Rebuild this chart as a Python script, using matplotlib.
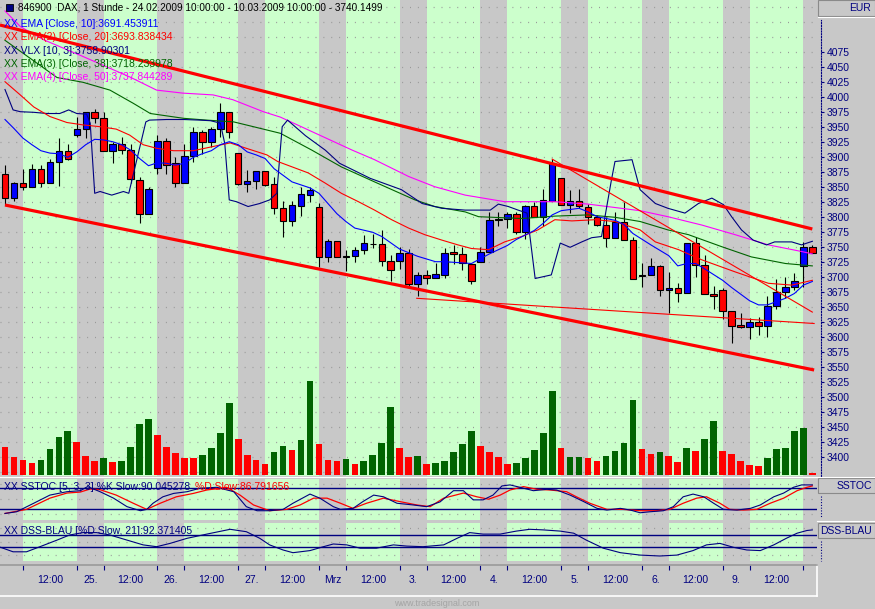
import matplotlib
matplotlib.use('Agg')
import matplotlib.pyplot as plt
from matplotlib.patches import Rectangle
from matplotlib.lines import Line2D

plt.rcParams['font.family'] = ['Liberation Sans', 'DejaVu Sans']

W, H = 875, 609
GREY = '#c8c8c8'
LIGHT_GREEN = '#ccffcc'
NAVY = '#000080'
DKGREEN = '#006400'
DOTS = '#999999'

# hourly bars, bar 0 = 24.02.2009 10:00, last bar = 10.03.2009 10:00
opens = [3872, 3832, 3856, 3849, 3879, 3857, 3891, 3909, 3937, 3947,
         3974, 3964, 3909, 3921, 3911, 3862, 3804, 3882, 3927, 3889,
         3857, 3901, 3941, 3924, 3946, 3974, 3907, 3855, 3859, 3876,
         3854, 3814, 3793, 3818, 3837, 3817, 3732, 3760, 3733, 3734,
         3745, 3755, 3754, 3726, 3726, 3739, 3688, 3702, 3697, 3703,
         3741, 3737, 3721, 3725, 3741, 3794, 3796, 3804, 3775, 3818,
         3799, 3827, 3864, 3820, 3827, 3817, 3799, 3786, 3764, 3792,
         3761, 3701, 3702, 3717, 3677, 3681, 3672, 3756, 3719, 3671,
         3678, 3643, 3619, 3616, 3624, 3618, 3651, 3674, 3683, 3718,
         3750]
highs = [3886, 3858, 3879, 3888, 3886, 3897, 3932, 3921, 3966, 3975,
         3979, 3974, 3925, 3933, 3922, 3867, 3849, 3936, 3931, 3899,
         3921, 3950, 3945, 3950, 3989, 3974, 3907, 3878, 3877, 3876,
         3866, 3827, 3827, 3849, 3850, 3823, 3763, 3760, 3745, 3749,
         3770, 3772, 3778, 3736, 3749, 3746, 3708, 3711, 3722, 3747,
         3753, 3750, 3721, 3749, 3808, 3808, 3808, 3808, 3820, 3825,
         3847, 3896, 3864, 3845, 3846, 3822, 3803, 3799, 3808, 3825,
         3766, 3723, 3731, 3720, 3708, 3689, 3756, 3766, 3736, 3685,
         3681, 3643, 3639, 3631, 3633, 3668, 3696, 3699, 3706, 3757,
         3753]
lows = [3819, 3827, 3845, 3849, 3849, 3856, 3851, 3895, 3933, 3931,
        3956, 3909, 3889, 3904, 3856, 3790, 3804, 3871, 3871, 3849,
        3857, 3891, 3904, 3917, 3933, 3932, 3853, 3842, 3846, 3851,
        3804, 3766, 3785, 3801, 3824, 3716, 3725, 3732, 3710, 3725,
        3737, 3747, 3717, 3693, 3713, 3683, 3668, 3687, 3697, 3698,
        3721, 3711, 3687, 3725, 3741, 3784, 3782, 3771, 3762, 3799,
        3784, 3827, 3820, 3807, 3814, 3788, 3784, 3750, 3764, 3761,
        3696, 3683, 3702, 3667, 3639, 3657, 3672, 3699, 3671, 3646,
        3629, 3589, 3614, 3596, 3603, 3599, 3646, 3664, 3678, 3683,
        3740]
closes = [3832, 3856, 3849, 3879, 3857, 3891, 3909, 3896, 3947, 3974,
          3964, 3909, 3921, 3911, 3863, 3804, 3846, 3927, 3887, 3857,
          3901, 3941, 3924, 3946, 3974, 3942, 3855, 3860, 3877, 3853,
          3814, 3793, 3820, 3838, 3844, 3732, 3760, 3732, 3734, 3744,
          3756, 3754, 3726, 3711, 3739, 3688, 3702, 3697, 3704, 3740,
          3737, 3722, 3692, 3741, 3794, 3796, 3804, 3775, 3818, 3799,
          3828, 3890, 3820, 3827, 3818, 3799, 3786, 3764, 3792, 3761,
          3696, 3702, 3717, 3678, 3681, 3672, 3756, 3719, 3671, 3667,
          3643, 3618, 3616, 3624, 3618, 3651, 3674, 3682, 3693, 3749,
          3740]
volume = [28, 18, 15, 12, 15, 26, 38, 44, 33, 19,
          14, 17, 13, 14, 28, 51, 56, 40, 28, 22,
          17, 17, 20, 27, 42, 72, 36, 20, 15, 11,
          23, 29, 25, 35, 94, 31, 15, 14, 16, 11,
          14, 20, 32, 68, 27, 18, 19, 11, 12, 14,
          23, 31, 44, 29, 23, 18, 11, 12, 17, 25,
          42, 84, 27, 18, 18, 17, 14, 19, 24, 32,
          75, 26, 21, 23, 19, 13, 27, 24, 36, 54,
          24, 21, 14, 10, 9, 17, 26, 27, 44, 47,
          2]
vol_up = [0, 0, 0, 0, 1, 1, 1, 1, 0, 0,
          0, 1, 0, 1, 1, 1, 1, 0, 0, 0,
          0, 0, 1, 1, 1, 1, 0, 0, 0, 0,
          1, 1, 0, 1, 1, 0, 0, 0, 1, 0,
          1, 1, 1, 1, 0, 0, 1, 0, 1, 1,
          1, 1, 1, 0, 0, 0, 0, 1, 1, 1,
          1, 1, 0, 1, 1, 0, 0, 1, 1, 1,
          1, 0, 0, 1, 0, 0, 1, 0, 1, 1,
          0, 0, 0, 0, 0, 1, 1, 1, 1, 1,
          0]

# indicator lines (bar position, value)
ema10_x = list(range(0, 31)) + [32, 34, 35, 36, 37, 38, 39, 41, 42, 44, 46, 48, 49, 51, 52, 53, 54,
                                56, 57, 59, 60, 61, 62, 64, 65, 66, 68, 69, 70, 72, 74, 75, 76,
                                77, 78, 80, 81, 83, 84, 85, 87, 88, 89, 90]
ema10_y = [3962, 3947, 3931, 3920, 3910, 3906, 3905, 3899, 3908, 3920,
           3929, 3928, 3925, 3920, 3911, 3897, 3885, 3890, 3889, 3886,
           3889, 3899, 3905, 3910, 3920, 3925, 3920, 3908, 3903, 3897, 3880,
           3858, 3848, 3839, 3822, 3805, 3792, 3781, 3774, 3767, 3746, 3734, 3725, 3725,
           3723, 3722, 3730, 3738, 3752, 3762, 3777, 3789, 3803, 3810, 3814, 3808, 3800,
           3794, 3787, 3772, 3753, 3735, 3718, 3722, 3722, 3713, 3694, 3682, 3660,
           3653, 3653, 3664, 3672, 3686, 3692]
ema20_x = [0, 1.7, 3.2, 5, 6.9, 8.7, 10.6, 12.4, 13.9, 15.4, 16.9, 18.8, 21, 23.2, 25.1, 26.9,
           29.2, 30.4, 33.8, 35.7, 37.5, 39.4, 41.2, 43.1, 45, 46.8, 48.7, 50.5, 52, 53.9, 55.7,
           57.6, 59.4, 61.3, 63.2, 65.8, 68, 70.8, 72.5, 75.1, 77.7, 81.4, 85.1, 87.7, 90]
ema20_y = [4025, 4003, 3983, 3967, 3957, 3953, 3950, 3946, 3936, 3920, 3914, 3910, 3910, 3917,
           3923, 3914, 3903, 3892, 3873, 3856, 3839, 3825, 3811, 3795, 3781, 3770, 3761, 3753,
           3747, 3745, 3758, 3767, 3778, 3795, 3793, 3795, 3792, 3778, 3758, 3745, 3728, 3708,
           3689, 3686, 3694]
vlx_x = [0, 0.9, 1.7, 3.2, 4.7, 6.1, 7.1, 8, 9.1, 9.5, 10, 10.6, 11.9, 13.2, 13.8, 15.7, 16.1,
         18, 19.9, 21.7, 22.9, 24, 24.5, 25, 25.8, 27.1, 28.4, 29.5, 30.3, 30.9, 31.5, 33.5,
         35.7, 37.3, 40.7, 44.2, 46.5, 48.7, 51.3, 54.1, 55, 56.1, 57.2, 58.2, 59.1, 60.9,
         61.9, 63, 64.3, 65.4, 66.5, 67.6, 68, 69.9, 70.8, 72.5, 73.9, 75.8, 77.3, 78.8,
         80.1, 81, 82.1, 83.4, 84.9, 85.8, 87.7, 88.8, 90]
vlx_y = [4012, 3978, 3975, 3974, 3972, 3972, 3978, 3972, 3971, 3956, 3839, 3842, 3836, 3842,
         3839, 3958, 3961, 3962, 3962, 3961, 3960, 3956, 3922, 3828, 3825, 3817, 3822, 3828,
         3839, 3950, 3961, 3935, 3911, 3889, 3864, 3845, 3822, 3814, 3811, 3811, 3821, 3817,
         3811, 3806, 3697, 3703, 3756, 3749, 3758, 3765, 3767, 3861, 3892, 3895, 3845, 3822,
         3814, 3806, 3822, 3831, 3820, 3800, 3778, 3761, 3753, 3758, 3758, 3753, 3759]
ema38_x = [0, 5.8, 8.7, 11.7, 14.3, 16.2, 19.9, 22.5, 25.5, 27.7, 30.7, 34.2, 37.5, 41.2, 45.7,
           47.9, 51.3, 52.8, 57.6, 61.3, 65, 68, 70.8, 73.9, 76.2, 79.9, 83.2, 87, 90]
ema38_y = [4094, 4032, 4024, 4011, 3989, 3972, 3964, 3961, 3958, 3950, 3939, 3911, 3883, 3858,
           3828, 3817, 3808, 3800, 3797, 3801, 3803, 3799, 3792, 3778, 3770, 3750, 3733, 3722,
           3718]
ema50_x = [0, 1.7, 4.3, 8.7, 13.9, 16.9, 19.8, 23.2, 25.4, 28.8, 30.7, 38.7, 41.2, 45, 47.9,
           51.3, 55.7, 61.3, 65, 70.8, 73.9, 77.7, 81.4, 85.1, 88.8, 90]
ema50_y = [4143, 4117, 4095, 4067, 4033, 4011, 4006, 4003, 3995, 3975, 3966, 3911, 3895, 3867,
           3850, 3836, 3825, 3825, 3821, 3810, 3800, 3786, 3770, 3753, 3742, 3738]

# trend lines (bar, price)
upper_channel = [(-0.56, 4119.5), (90.0, 3779.5)]
lower_channel = [(0.0, 3819.5), (90.2, 3544.5)]
fan_line = [(61.0, 3896), (90.0, 3641)]
flat_line = [(45.9, 3664), (90.2, 3622)]

# SSTOC %K / %D and DSS-BLAU
k_x = [0, 1.3, 3.2, 5, 6.9, 8.4, 9.2, 10.6, 12.1, 13.6, 15.1, 15.8, 16.5, 17.6, 18.8, 20.3,
       21.7, 23.6, 25.5, 26.9, 28.1, 29.5, 31, 32.1, 34, 35.1, 36.6, 37.4, 38.8, 39.9, 41.1,
       42.2, 43.7, 45.5, 47, 48.5, 50, 51.1, 52.2, 53.3, 54.4, 55.4, 56.3, 57.4, 58.9, 60.4,
       61.5, 63, 64.5, 66, 67.1, 68.6, 69.7, 70.8, 71.9, 73.4, 74.5, 75.6, 76.7, 77.9, 79,
       80.1, 81.6, 83.1, 84.2, 85.7, 86.8, 87.9, 88.8, 90]
k_y = [6, 11, 36, 60, 70, 73, 85, 70, 51, 26, 14, 18, 36, 55, 65, 70, 80, 83, 70, 26, 14, 14,
       18, 36, 63, 51, 26, 18, 21, 41, 60, 55, 36, 31, 26, 40, 73, 73, 46, 46, 60, 87, 90, 83,
       73, 77, 75, 60, 41, 21, 16, 21, 16, 8, 11, 14, 26, 55, 63, 55, 36, 18, 16, 21, 31, 55,
       66, 83, 90, 90]
d_x = [0, 2.4, 5, 6.9, 8.4, 9.5, 10.6, 12.4, 14.3, 15.8, 17.3, 19.1, 21, 22.5, 24.7, 26.2,
       27.7, 29.5, 31.4, 32.9, 34.4, 35.9, 37.4, 38.8, 40.3, 42.2, 44, 45.9, 47.4, 48.9, 51.1,
       52.6, 53.9, 55.2, 56.3, 57.8, 59.3, 60.8, 62.6, 63.7, 65.2, 67.1, 68.9, 70.8, 72.6,
       74.1, 75.6, 77.1, 78.2, 79.7, 80.8, 82.3, 83.8, 85.3, 86.8, 88.3, 89.4, 90]
d_y = [6, 18, 51, 66, 69, 78, 76, 60, 36, 18, 36, 55, 65, 75, 83, 60, 31, 14, 18, 31, 51, 51,
       36, 21, 36, 51, 41, 31, 26, 51, 66, 55, 48, 60, 75, 85, 77, 75, 70, 55, 36, 18, 18, 14,
       14, 18, 36, 51, 55, 36, 18, 16, 18, 36, 51, 73, 83, 87]
dss_x = [-0.5, 0.9, 2.4, 3.9, 5.8, 7.2, 8.7, 10.2, 11.7, 13.6, 15.4, 16.9, 18.4, 20.3, 22.5,
         25.1, 26.9, 28.4, 29.5, 31, 32.1, 34, 35.5, 36.6, 38.1, 39.6, 41.4, 43.3, 44.8, 46.6,
         48.9, 50.4, 51.8, 53.3, 55.2, 57, 58.5, 60, 61.9, 63.4, 64.8, 66.7, 68.6, 70.8, 73,
         74.9, 76.7, 78.2, 79.7, 81.2, 82.7, 84.2, 85.7, 87.1, 88.3, 89.4, 90]
dss_y = [30, 15, 15, 32, 54, 71, 79, 79, 71, 54, 38, 32, 43, 60, 74, 90, 82, 60, 38, 21, 12,
         19, 32, 41, 38, 27, 27, 38, 34, 32, 38, 60, 79, 74, 74, 84, 90, 88, 84, 77, 54, 27,
         12, 4, 1, 4, 19, 38, 43, 30, 21, 19, 38, 60, 77, 86, 88]

day_labels = ['25.', '26.', '27.', 'Mrz', '3.', '4.', '5.', '6.', '9.']
price_ticks = list(range(3400, 4076, 25))

XMIN, XMAX = -0.557, 90.52
bars = list(range(len(closes)))
green_from = [2 + 9 * k for k in range(10)]


def box(x0, y0, x1, y1):
    return [x0 / W, 1 - y1 / H, (x1 - x0) / W, (y1 - y0) / H]


def ftext(x, y, s, **kw):
    fig.text(x / W, 1 - y / H, s, va='center', **kw)


def fline(xs, ys, **kw):
    fig.add_artist(Line2D([x / W for x in xs], [1 - y / H for y in ys],
                          transform=fig.transFigure, **kw))


def frect(x0, y0, x1, y1, **kw):
    fig.add_artist(Rectangle((x0 / W, 1 - y1 / H), (x1 - x0) / W, (y1 - y0) / H,
                             transform=fig.transFigure, **kw))


def shade(a):
    a.set_facecolor(GREY)
    for g in green_from:
        a.axvspan(g, g + 6, color=LIGHT_GREEN, lw=0, zorder=0)
    a.set_xlim(XMIN, XMAX)
    a.set_xticks([])
    a.set_yticks([])
    for s in a.spines.values():
        s.set_visible(False)


def dotted_rows(a, levels):
    for v in levels:
        a.axhline(v, color=DOTS, lw=0.9, ls=(0, (0.8, 5.5)), zorder=0.5)


fig = plt.figure(figsize=(W / 100, H / 100), dpi=100)
fig.patch.set_facecolor(GREY)

# ---- main price panel
ax = fig.add_axes(box(0, 0, 817, 476))
shade(ax)
ax.set_ylim(3367.8, 4161.2)
dotted_rows(ax, range(3375, 4161, 25))

ax.vlines(bars, lows, highs, color='black', lw=0.8, zorder=3)
body_bot = [min(o, c) for o, c in zip(opens, closes)]
body_h = [max(abs(c - o), 1.2) for o, c in zip(opens, closes)]
body_col = ['#ff0000' if c < o else '#0000ff' for o, c in zip(opens, closes)]
ax.bar(bars, body_h, bottom=body_bot, width=0.72, color=body_col,
       edgecolor='black', lw=0.8, zorder=4)

ax.plot(ema38_x, ema38_y, color=DKGREEN, lw=0.8, zorder=5)
ax.plot(ema50_x, ema50_y, color='#ff00ff', lw=0.8, zorder=5)
ax.plot(vlx_x, vlx_y, color=NAVY, lw=0.8, zorder=5)
ax.plot(ema20_x, ema20_y, color='#ff0000', lw=0.8, zorder=5)
ax.plot(ema10_x, ema10_y, color='#0000ff', lw=0.8, zorder=5)
for ln in (fan_line, flat_line):
    ax.plot([q[0] for q in ln], [q[1] for q in ln], color='#ff0000', lw=0.8, zorder=5)
for ln in (upper_channel, lower_channel):
    ax.plot([q[0] for q in ln], [q[1] for q in ln], color='#ff0000', lw=2.3, zorder=6,
            solid_capstyle='butt')

axv = ax.twinx()
axv.set_ylim(-1, 475)
axv.bar(bars, volume, width=0.74, color=[DKGREEN if u else '#ff0000' for u in vol_up], lw=0)
axv.set_yticks([])
for s in axv.spines.values():
    s.set_visible(False)

# price scale on the right
axr = fig.add_axes(box(820.5, 0, 821, 476))
axr.set_ylim(3367.8, 4161.2)
axr.patch.set_visible(False)
axr.set_xticks([])
axr.yaxis.tick_right()
axr.set_yticks(price_ticks)
axr.tick_params(axis='y', direction='out', length=2.5, width=0.8, color=NAVY,
                labelcolor=NAVY, labelsize=7.5, pad=1.5)
for side in ('left', 'top', 'bottom'):
    axr.spines[side].set_visible(False)
axr.spines['right'].set_color(NAVY)
axr.spines['right'].set_linestyle((0, (1, 1.5)))
axr.spines['right'].set_bounds(3368, 4128)

# ---- SSTOC panel
ax_s = fig.add_axes(box(0, 479, 817, 519.5))
shade(ax_s)
ax_s.set_ylim(-11.8, 107.4)
dotted_rows(ax_s, (93, 49, 5))
for v in (80, 20):
    ax_s.axhline(v, color=NAVY, lw=1.0, zorder=2)
ax_s.plot(d_x, d_y, color='#ff0000', lw=0.9, zorder=3)
ax_s.plot(k_x, k_y, color=NAVY, lw=0.8, zorder=4)

# ---- DSS-BLAU panel
ax_d = fig.add_axes(box(0, 523, 817, 561))
shade(ax_d)
ax_d.set_ylim(-15.7, 111)
dotted_rows(ax_d, (93, 49, 5))
for v in (70, 30):
    ax_d.axhline(v, color=NAVY, lw=1.0, zorder=2)
ax_d.plot(dss_x, dss_y, color=NAVY, lw=0.8, zorder=3)

# ---- time axis
ax_x = fig.add_axes(box(0, 564.5, 817, 596))
ax_x.set_facecolor(GREY)
ax_x.set_xlim(XMIN, XMAX)
ax_x.set_ylim(0, 1)
ax_x.set_yticks([])
ax_x.xaxis.tick_top()
ax_x.set_xticks(sorted(green_from + [g + 6 for g in green_from]))
ax_x.tick_params(axis='x', direction='in', length=3.5, width=0.8, color=NAVY, labeltop=False)
ax_x.spines['left'].set_visible(False)
ax_x.spines['top'].set_color('#9a9a9a')
ax_x.spines['top'].set_linewidth(1.2)
for side in ('bottom', 'right'):
    ax_x.spines[side].set_color('white')
    ax_x.spines[side].set_linewidth(1.2)
for g in green_from:
    ax_x.text(g + 3, 0.5, '12:00', ha='center', va='center', color=NAVY, fontsize=7.5)
for g, lab in zip(green_from, day_labels):
    ax_x.text(g + 7.5, 0.5, lab, ha='center', va='center', color=NAVY, fontsize=7.5)

# ---- separators and right-hand boxes
fline([0, 875], [476.8, 476.8], color='white', lw=0.8)
fline([817, 875], [521, 521], color='white', lw=0.8)
frect(818, 0, 874.5, 15.5, facecolor=GREY, edgecolor='#8a8a8a', lw=0.8)
fline([818, 875], [16.5, 16.5], color='white', lw=0.8)
ftext(871, 8, 'EUR', ha='right', color=NAVY, fontsize=7.5)
frect(818, 478.3, 874.5, 493.3, facecolor=GREY, edgecolor='#8a8a8a', lw=0.8)
ftext(872, 486, 'SSTOC', ha='right', color=NAVY, fontsize=7.5)
frect(818, 522.7, 874.5, 538.3, facecolor=GREY, edgecolor='#8a8a8a', lw=0.8)
ftext(872, 530.5, 'DSS-BLAU', ha='right', color=NAVY, fontsize=7.5)
fline([821, 821], [496, 518], color=NAVY, lw=0.8, ls=(0, (1, 1.5)))
fline([821, 821], [541, 561], color=NAVY, lw=0.8, ls=(0, (1, 1.5)))

# ---- legend texts
frect(6, 4.5, 12.5, 11, facecolor=NAVY, edgecolor='black', lw=0.6)
ftext(18, 8, '846900  DAX, 1 Stunde - 24.02.2009 10:00:00 - 10.03.2009 10:00:00 - 3740.1499',
      ha='left', color='black', fontsize=7.2)
legend_rows = [('XX EMA [Close, 10]:3691.453911', '#0000ff'),
               ('XX EMA(2) [Close, 20]:3693.838434', '#ff0000'),
               ('XX VLX [10, 3]:3758.90301', NAVY),
               ('XX EMA(3) [Close, 38]:3718.233978', DKGREEN),
               ('XX EMA(4) [Close, 50]:3737.844289', '#ff00ff')]
for k, (s, c) in enumerate(legend_rows):
    ftext(4, 24 + 13.3 * k, s, ha='left', color=c, fontsize=7.5)
ftext(4, 486.5, 'XX SSTOC [5, 3, 3] %K Slow:90.045278', ha='left', color=NAVY, fontsize=7.5)
ftext(195, 486.5, '%D Slow:86.791656', ha='left', color='#ff0000', fontsize=7.5)
ftext(4, 531, 'XX DSS-BLAU [%D Slow, 21]:92.371405', ha='left', color=NAVY, fontsize=7.5)

ftext(437, 603, 'www.tradesignal.com', ha='center', color='#a4a4a4', fontsize=6.5)

fig.savefig('out.png', dpi=100, facecolor=GREY)
